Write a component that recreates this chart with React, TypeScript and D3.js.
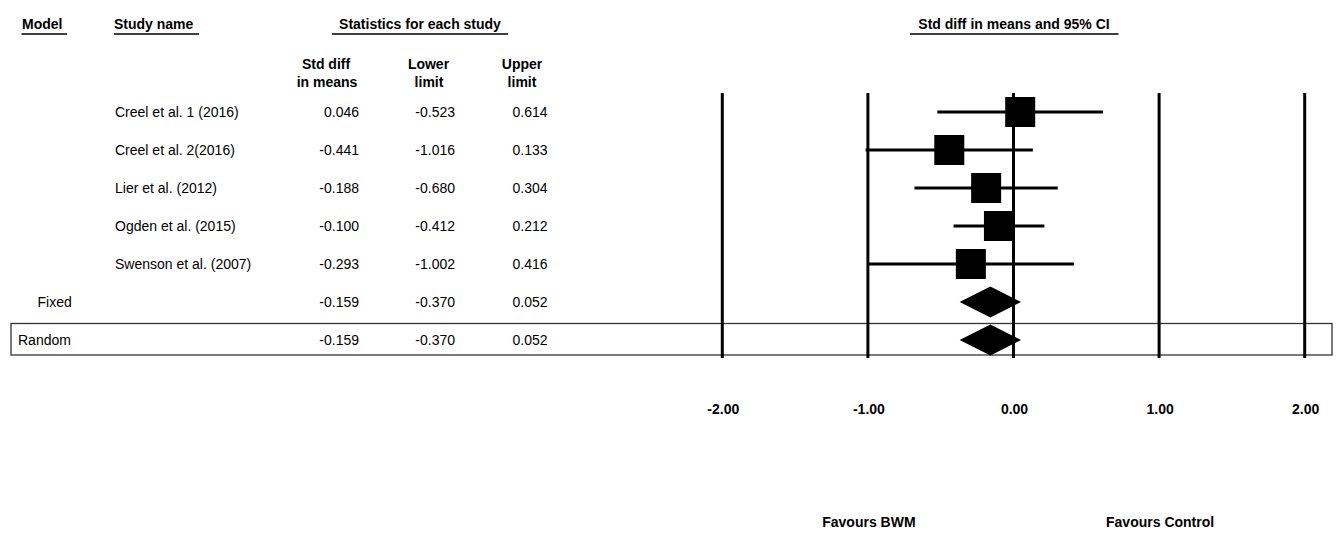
import React from "react";
import * as d3 from "d3";

// Individual studies
const studyNames = [
  "Creel et al. 1 (2016)",
  "Creel et al. 2(2016)",
  "Lier et al. (2012)",
  "Ogden et al. (2015)",
  "Swenson et al. (2007)",
];
const studyEstimate = [0.046, -0.441, -0.188, -0.1, -0.293];
const studyLower = [-0.523, -1.016, -0.68, -0.412, -1.002];
const studyUpper = [0.614, 0.133, 0.304, 0.212, 0.416];

// Pooled estimates
const modelNames = ["Fixed", "Random"];
const modelEstimate = [-0.159, -0.159];
const modelLower = [-0.37, -0.37];
const modelUpper = [0.052, 0.052];

// Axis
const axisTicks = [-2, -1, 0, 1, 2];
const favourLabels = [
  { text: "Favours BWM", at: -1 },
  { text: "Favours Control", at: 1 },
];

const W = 1336;
const H = 533;
const FONT = "'Liberation Sans', Arial, Helvetica, sans-serif";
const fmt3 = (v: number) => v.toFixed(3);
const fmt2 = (v: number) => v.toFixed(2);

export default function App() {
  const x = d3.scaleLinear().domain([-2, 2]).range([722.3, 1304.7]);
  const rowCount = studyNames.length + modelNames.length;
  const y = d3.scaleLinear().domain([0, rowCount - 1]).range([112, 340]);

  const boxSize = 30;
  const diamondHalf = 15.5;
  const colSdm = 359;
  const colLow = 455;
  const colUp = 547.5;

  const diamond = d3.line<[number, number]>();

  const headerStyle = { fontWeight: "bold" as const, fontSize: 14 };

  return (
    <svg
      width={W}
      height={H}
      style={{ position: "fixed", left: 0, top: 0, background: "#fff" }}
      fontFamily={FONT}
    >
      <rect x={0} y={0} width={W} height={H} fill="#fff" />

      {/* Column headers */}
      <g {...headerStyle} fill="#000" style={{ fontWeight: "bold", fontSize: 14 }}>
        <text x={22} y={29}>Model</text>
        <text x={114} y={29}>Study name</text>
        <text x={420} y={29} textAnchor="middle">Statistics for each study</text>
        <text x={1014} y={29} textAnchor="middle">Std diff in means and 95% CI</text>
        <text x={326} y={68.5} textAnchor="middle">Std diff</text>
        <text x={327} y={87} textAnchor="middle">in means</text>
        <text x={428.5} y={68.5} textAnchor="middle">Lower</text>
        <text x={429} y={87} textAnchor="middle">limit</text>
        <text x={522} y={68.5} textAnchor="middle">Upper</text>
        <text x={522} y={87} textAnchor="middle">limit</text>
      </g>
      <g stroke="#000" strokeWidth={1.3}>
        <line x1={21.5} x2={67} y1={34} y2={34} />
        <line x1={114} x2={199} y1={34} y2={34} />
        <line x1={332} x2={508} y1={34} y2={34} />
        <line x1={910} x2={1118.5} y1={34} y2={34} />
      </g>

      {/* Random-effects row frame */}
      <rect
        x={11}
        y={y(rowCount - 1) - 16.5}
        width={1321}
        height={31.5}
        fill="none"
        stroke="#333"
        strokeWidth={1.3}
      />

      {/* Reference lines */}
      <g stroke="#000" strokeWidth={3}>
        {axisTicks.map((t) => (
          <line key={t} x1={x(t)} x2={x(t)} y1={93} y2={358} />
        ))}
      </g>

      {/* Study rows */}
      {studyNames.map((name, i) => {
        const cy = y(i);
        return (
          <g key={name}>
            <text x={115} y={cy + 5} fontSize={14} fill="#000">{name}</text>
            <text x={colSdm} y={cy + 5} fontSize={14} textAnchor="end">{fmt3(studyEstimate[i])}</text>
            <text x={colLow} y={cy + 5} fontSize={14} textAnchor="end">{fmt3(studyLower[i])}</text>
            <text x={colUp} y={cy + 5} fontSize={14} textAnchor="end">{fmt3(studyUpper[i])}</text>
            <line
              x1={x(studyLower[i])}
              x2={x(studyUpper[i])}
              y1={cy}
              y2={cy}
              stroke="#000"
              strokeWidth={3}
            />
            <rect
              x={x(studyEstimate[i]) - boxSize / 2}
              y={cy - boxSize / 2}
              width={boxSize}
              height={boxSize}
              fill="#000"
            />
          </g>
        );
      })}

      {/* Pooled rows */}
      {modelNames.map((name, j) => {
        const cy = y(studyNames.length + j);
        const pts: [number, number][] = [
          [x(modelLower[j]), cy],
          [x(modelEstimate[j]), cy - diamondHalf],
          [x(modelUpper[j]), cy],
          [x(modelEstimate[j]), cy + diamondHalf],
        ];
        return (
          <g key={name}>
            <text x={j === 0 ? 37.5 : 18} y={cy + 5} fontSize={14}>{name}</text>
            <text x={colSdm} y={cy + 5} fontSize={14} textAnchor="end">{fmt3(modelEstimate[j])}</text>
            <text x={colLow} y={cy + 5} fontSize={14} textAnchor="end">{fmt3(modelLower[j])}</text>
            <text x={colUp} y={cy + 5} fontSize={14} textAnchor="end">{fmt3(modelUpper[j])}</text>
            <path d={diamond(pts) + "Z"} fill="#000" />
          </g>
        );
      })}

      {/* Tick labels */}
      <g style={{ fontWeight: "bold", fontSize: 14 }}>
        {axisTicks.map((t) => (
          <text key={t} x={x(t) + 1} y={414} textAnchor="middle">{fmt2(t)}</text>
        ))}
        {favourLabels.map((f) => (
          <text key={f.text} x={x(f.at) + 1} y={527} textAnchor="middle">{f.text}</text>
        ))}
      </g>
    </svg>
  );
}
